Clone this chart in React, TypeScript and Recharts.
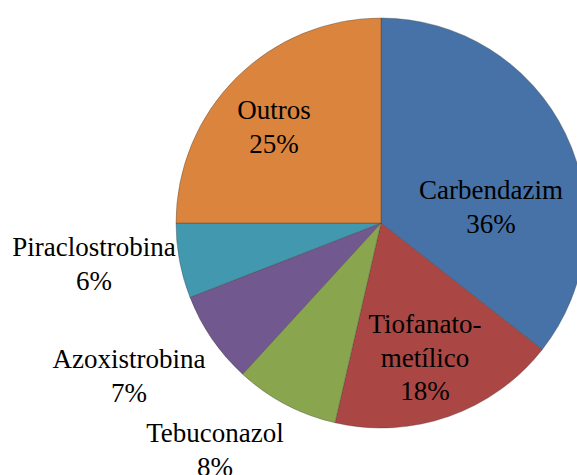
import React from "react";
import { PieChart, Pie, Cell } from "recharts";

const categories = [
  "Carbendazim",
  "Tiofanato-metílico",
  "Tebuconazol",
  "Azoxistrobina",
  "Piraclostrobina",
  "Outros",
];
const shares = [35.6, 18.0, 8.2, 7.3, 5.9, 25.0];
const colors = ["#4672A8", "#AA4643", "#89A54E", "#71588F", "#4198AF", "#DB843D"];

// label block placement relative to the pie centre (x centre, first baseline)
const labelOffsets = [
  [110, -24],
  [44, 110],
  [-166, 219],
  [-252, 145],
  [-287, 33],
  [-107, -104],
];

const data = categories.map((name, i) => ({ name, value: shares[i] }));

const LINE_H = 33.5;

const SliceLabel = (props: any) => {
  const { cx, cy, index, percent, name } = props;
  const [dx, dy] = labelOffsets[index];
  const lines = name.replace("-", "-\n").split("\n");
  lines.push(`${Math.round(percent * 100)}%`);
  const x = cx + dx;
  const y0 = cy + dy;
  return (
    <text
      x={x}
      y={y0}
      textAnchor="middle"
      fill="#000"
      style={{ fontFamily: "'Liberation Serif', serif", fontSize: 27 }}
    >
      {lines.map((line: string, i: number) => (
        <tspan key={i} x={x} y={y0 + i * LINE_H}>
          {line}
        </tspan>
      ))}
    </text>
  );
};

export default function App() {
  return (
    <div style={{ position: "absolute", left: 0, top: 0, background: "#fff" }}>
      <PieChart width={577} height={475} margin={{ top: 0, right: 0, bottom: 0, left: 0 }}>
        <Pie
          data={data}
          dataKey="value"
          nameKey="name"
          cx={381}
          cy={223}
          outerRadius={205}
          startAngle={90}
          endAngle={-270}
          stroke="rgba(60,60,60,0.35)"
          strokeWidth={1}
          label={<SliceLabel />}
          labelLine={false}
          isAnimationActive={false}
        >
          {data.map((entry, index) => (
            <Cell key={`cell-${index}`} fill={colors[index]} />
          ))}
        </Pie>
      </PieChart>
    </div>
  );
}
